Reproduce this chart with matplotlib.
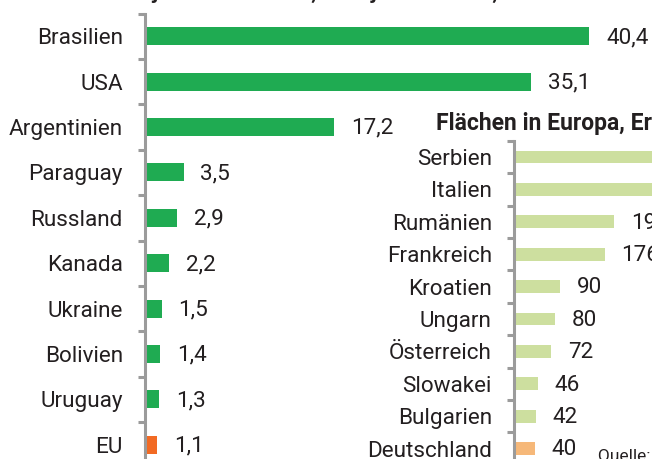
import numpy as np
import matplotlib.pyplot as plt
from matplotlib.ticker import FixedLocator

plt.rcParams['font.family'] = ['Roboto', 'DejaVu Sans']

# Welt: Sojaanbauflaechen, Mio. ha
laender = ['Brasilien', 'USA', 'Argentinien', 'Paraguay', 'Russland',
           'Kanada', 'Ukraine', 'Bolivien', 'Uruguay', 'EU']
flaeche = [40.4, 35.1, 17.2, 3.5, 2.9, 2.2, 1.5, 1.4, 1.3, 1.1]
farben = ['#1fab52'] * 9 + ['#f26a24']

# Europa: Flaechen in 1000 ha (Serbien/Italien abgeschnitten, geschaetzt)
eu_laender = ['Serbien', 'Italien', 'Rumänien', 'Frankreich', 'Kroatien',
              'Ungarn', 'Österreich', 'Slowakei', 'Bulgarien', 'Deutschland']
eu_flaeche = [320, 300, 195, 176, 90, 80, 72, 46, 42, 40]
eu_farben = ['#cddf9f'] * 9 + ['#f6b879']

W, H = 652, 459
fig = plt.figure(figsize=(W / 100, H / 100), dpi=100)

grau = '#9b9b9b'
fs = 16.2


def style(ax, n, labels):
    for s in ['top', 'right', 'bottom']:
        ax.spines[s].set_visible(False)
    ax.spines['left'].set_color(grau)
    ax.spines['left'].set_linewidth(2.2)
    ax.set_yticks(range(n))
    ax.set_yticklabels(labels, fontsize=fs, color='#231f20')
    ax.yaxis.set_minor_locator(FixedLocator(np.arange(-0.5, n, 1.0)))
    ax.tick_params(axis='y', which='major', length=0, pad=16)
    ax.tick_params(axis='y', which='minor', length=5, width=2.2, color=grau)
    ax.set_xticks([])
    ax.set_ylim(n - 0.5, -0.5)
    ax.patch.set_alpha(0)


# Hauptdiagramm
x0 = 145
top = 13.5
step = 45.4
ax = fig.add_axes([x0 / W, 1 - (top + 10 * step) / H, 1 - x0 / W, 10 * step / H])
ax.barh(range(len(laender)), flaeche, height=0.4, color=farben)
ax.set_xlim(0, (W - x0) / 11.0)
style(ax, len(laender), laender)
for i, v in enumerate(flaeche):
    ax.annotate(f'{v:.1f}'.replace('.', ','), (v, i), xytext=(12, -1),
                textcoords='offset points', va='center', ha='left',
                fontsize=fs, color='#231f20', annotation_clip=False)

# Europa-Einschub
x1 = 514
top2 = 140.8
step2 = 32.4
ax2 = fig.add_axes([x1 / W, 1 - (top2 + 10 * step2) / H, 1 - x1 / W, 10 * step2 / H])
ax2.barh(range(len(eu_laender)), eu_flaeche, height=0.4, color=eu_farben)
ax2.set_xlim(0, (W - x1) / 0.515)
style(ax2, len(eu_laender), eu_laender)
for i, v in enumerate(eu_flaeche):
    ax2.annotate(f'{v}', (v, i), xytext=(12, -1), textcoords='offset points',
                 va='center', ha='left', fontsize=fs, color='#231f20',
                 annotation_clip=False)

fig.text(436 / W, 1 - 130 / H, 'Flächen in Europa, Erntejahr 2018/19, in 1000 ha',
         fontsize=16.5, fontweight='bold', color='#231f20', va='baseline')
fig.text(128 / W, 1 + 1 / H, 'Sojaanbau weltweit, Erntejahr 2018/19, in Mio. ha',
         fontsize=15, fontweight='bold', color='#231f20', va='baseline')
fig.text(598 / W, 1 - 448 / H, 'Quelle: USDA', fontsize=12.5, color='#231f20',
         va='top')

fig.savefig('out.png', dpi=100)
